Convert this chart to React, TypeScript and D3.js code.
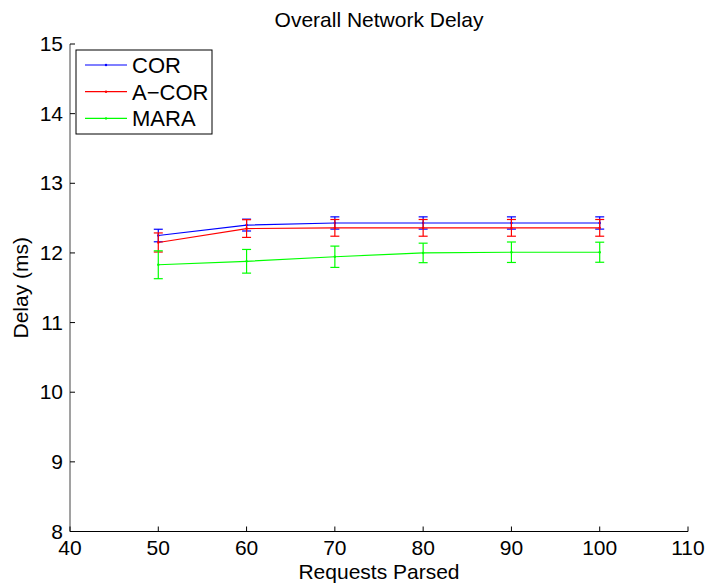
import React from "react";
import * as d3 from "d3";

const requests = [50, 60, 70, 80, 90, 100];

const corDelay = [12.25, 12.4, 12.43, 12.43, 12.43, 12.43];
const corErr = [0.09, 0.085, 0.088, 0.088, 0.088, 0.088];

const acorDelay = [12.15, 12.35, 12.36, 12.36, 12.36, 12.36];
const acorErr = [0.137, 0.127, 0.12, 0.12, 0.12, 0.12];

const maraDelay = [11.83, 11.88, 11.945, 12.0, 12.01, 12.01];
const maraErr = [0.2, 0.17, 0.153, 0.14, 0.147, 0.144];

const xTicks = [40, 50, 60, 70, 80, 90, 100, 110];
const yTicks = [8, 9, 10, 11, 12, 13, 14, 15];

const seriesNames = ["COR", "A\u2212COR", "MARA"];
const seriesColors = ["#0000ff", "#ff0000", "#00ff00"];
const seriesValues = [corDelay, acorDelay, maraDelay];
const seriesErrors = [corErr, acorErr, maraErr];

const W = 710;
const H = 587;
const left = 70;
const right = 688;
const top = 44;
const bottom = 531.5;
const font = "'Liberation Sans', Arial, Helvetica, sans-serif";

export default function App() {
  const x = d3.scaleLinear().domain([40, 110]).range([left, right]);
  const y = d3.scaleLinear().domain([8, 15]).range([bottom, top]);
  const line = d3
    .line<number>()
    .x((_, i) => x(requests[i]))
    .y((d) => y(d));
  const cap = 4.5;
  const tickLen = 5;

  return (
    <div style={{ position: "fixed", left: 0, top: 0 }}>
      <svg width={W} height={H} style={{ display: "block", background: "#fff" }} fontFamily={font}>
        <rect x={0} y={0} width={W} height={H} fill="#fff" />
        {/* title */}
        <text x={(left + right) / 2} y={27} textAnchor="middle" fontSize={21}>
          Overall Network Delay
        </text>

        {/* series: error bars, lines, point markers */}
        {seriesValues.map((vals, s) => (
          <g key={s} stroke={seriesColors[s]} fill="none" strokeWidth={1.2}>
            {vals.map((v, i) => {
              const cx = x(requests[i]);
              const y0 = y(v - seriesErrors[s][i]);
              const y1 = y(v + seriesErrors[s][i]);
              return (
                <g key={i}>
                  <line x1={cx} x2={cx} y1={y0} y2={y1} />
                  <line x1={cx - cap} x2={cx + cap} y1={y0} y2={y0} />
                  <line x1={cx - cap} x2={cx + cap} y1={y1} y2={y1} />
                </g>
              );
            })}
            <path d={line(vals) || ""} />
            {vals.map((v, i) => (
              <circle key={"m" + i} cx={x(requests[i])} cy={y(v)} r={1.2} fill={seriesColors[s]} stroke="none" />
            ))}
          </g>
        ))}

        {/* axes */}
        <g stroke="#000" strokeWidth={1} fill="none">
          <line x1={left} x2={left} y1={top} y2={bottom} stroke="#444" />
          <line x1={left} x2={right} y1={bottom} y2={bottom} />
          {yTicks.map((t) => (
            <line key={"yt" + t} x1={left} x2={left + tickLen} y1={y(t)} y2={y(t)} />
          ))}
          {xTicks.map((t) => (
            <line key={"xt" + t} x1={x(t)} x2={x(t)} y1={bottom} y2={bottom - tickLen} />
          ))}
        </g>
        {yTicks.map((t) => (
          <text key={"yl" + t} x={left - 7} y={y(t) + 7} textAnchor="end" fontSize={21}>
            {t}
          </text>
        ))}
        {xTicks.map((t) => (
          <text key={"xl" + t} x={x(t)} y={555} textAnchor="middle" fontSize={21}>
            {t}
          </text>
        ))}
        <text x={(left + right) / 2} y={579} textAnchor="middle" fontSize={21}>
          Requests Parsed
        </text>
        <text
          transform={`translate(28,${(top + bottom) / 2}) rotate(-90)`}
          textAnchor="middle"
          fontSize={21}
        >
          Delay (ms)
        </text>

        {/* legend */}
        <g>
          <rect x={76} y={50} width={136} height={84} fill="#fff" stroke="#000" strokeWidth={1} />
          {seriesNames.map((n, i) => {
            const ly = 65 + i * 26.7;
            return (
              <g key={n}>
                <line x1={85} x2={127} y1={ly} y2={ly} stroke={seriesColors[i]} strokeWidth={1.2} />
                <circle cx={106} cy={ly} r={1.2} fill={seriesColors[i]} />
                <text x={132} y={ly + 8} fontSize={22}>
                  {n}
                </text>
              </g>
            );
          })}
        </g>
      </svg>
    </div>
  );
}
